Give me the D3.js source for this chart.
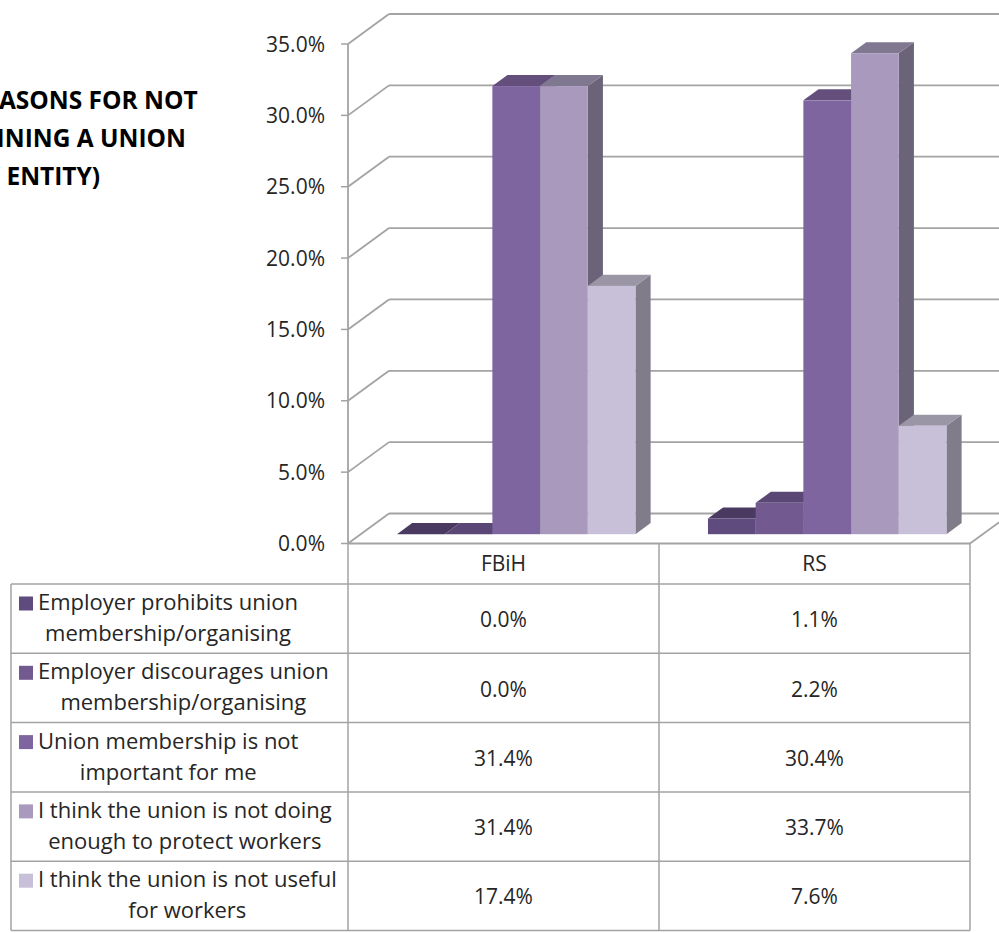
<!DOCTYPE html>
<html>
<head>
<meta charset="utf-8">
<script src="https://cdn.jsdelivr.net/npm/d3@7"></script>
<style>
  html, body { margin: 0; padding: 0; background: #ffffff; }
  svg { display: block; }
</style>
</head>
<body>
<script>
// ---------------- DATA ----------------
const categories = ["FBiH", "RS"];
const seriesNames = [
  "Employer prohibits union membership/organising",
  "Employer discourages union membership/organising",
  "Union membership is not important for me",
  "I think the union is not doing enough to protect workers",
  "I think the union is not useful for workers"
];
const legendLines = [
  ["Employer prohibits union", "membership/organising"],
  ["Employer discourages union", "membership/organising"],
  ["Union membership is not", "important for me"],
  ["I think the union is not doing", "enough to protect workers"],
  ["I think the union is not useful", "for workers"]
];
const valuesFBiH = [0.0, 0.0, 31.4, 31.4, 17.4];
const valuesRS = [1.1, 2.2, 30.4, 33.7, 7.6];
const yTicks = [0, 5, 10, 15, 20, 25, 30, 35];
const titleLines = ["REASONS FOR NOT", "JOINING A UNION", "(BY ENTITY)"];

// ---------------- STYLE ----------------
const frontColors = ["#5F4B7E", "#725A91", "#7F65A0", "#A899BD", "#C8C0D8"];
const topColors   = ["#4A3A62", "#5A4775", "#634E7C", "#807791", "#9B96A5"];
const sideColors  = ["#44375A", "#54436C", "#5B4A72", "#6B6479", "#807C8A"];
const gridColor = "#A3A3A3";
const textColor = "#262626";
const FONT = "'Open Sans', 'DejaVu Sans', sans-serif";
const FS = 21, FS_LEG = 22;

const W = 999, H = 933;
const svg = d3.select("body").append("svg").attr("width", W).attr("height", H)
  .style("font-family", FONT);

// 3D geometry
const DX = 41, DY = -30;          // depth offset of the box
const fF = 0.31, fB = 0.68;       // bar front/back fractions of depth
const axisX = 348, plotRight = 970;

const y = d3.scaleLinear().domain([0, 35]).range([543.5, 44]);
const x0 = d3.scaleBand().domain(categories).range([axisX, plotRight]).padding(0);
const x1 = d3.scaleBand().domain(d3.range(seriesNames.length))
  .range([0, x0.bandwidth()]).paddingInner(0).paddingOuter(0.76);

const data = categories.map((c, ci) => ({
  cat: c, vals: ci === 0 ? valuesFBiH : valuesRS
}));

// ---------------- GRID (walls) ----------------
const grid = svg.append("g");
yTicks.forEach(t => {
  const yf = y(t), yb = y(t) + DY;
  grid.append("line").attr("x1", axisX).attr("y1", yf).attr("x2", axisX + DX).attr("y2", yb)
    .attr("stroke", gridColor).attr("stroke-width", 1.8);
  grid.append("line").attr("x1", axisX + DX).attr("y1", yb).attr("x2", W + 60).attr("y2", yb)
    .attr("stroke", gridColor).attr("stroke-width", 1.8);
});
// floor
grid.append("line").attr("x1", axisX).attr("y1", y(0)).attr("x2", plotRight).attr("y2", y(0))
  .attr("stroke", gridColor).attr("stroke-width", 1.8);
grid.append("line").attr("x1", plotRight).attr("y1", y(0)).attr("x2", plotRight + DX).attr("y2", y(0) + DY)
  .attr("stroke", gridColor).attr("stroke-width", 1.8);

// axis
const ax = svg.append("g");
ax.append("line").attr("x1", axisX).attr("y1", y(35)).attr("x2", axisX).attr("y2", y(0))
  .attr("stroke", gridColor).attr("stroke-width", 1.8);
yTicks.forEach(t => {
  ax.append("line").attr("x1", axisX - 7).attr("y1", y(t)).attr("x2", axisX).attr("y2", y(t))
    .attr("stroke", gridColor).attr("stroke-width", 1.5);
  ax.append("text").attr("x", 325).attr("y", y(t)).attr("dy", "0.36em")
    .attr("text-anchor", "end").attr("font-size", FS).attr("fill", textColor)
    .text(d3.format(".1f")(t) + "%");
});

// ---------------- BARS ----------------
const bars = svg.append("g");
const ddx = (fB - fF) * DX, ddy = (fB - fF) * DY;
data.forEach(d => {
  d.vals.forEach((v, i) => {
    const xl = x0(d.cat) + x1(i) + fF * DX;
    const w = x1.bandwidth();
    const yb = y(0) + fF * DY;
    const yt = y(v) + fF * DY;
    const g = bars.append("g");
    g.append("polygon")
      .attr("points", [[xl + w, yt], [xl + w + ddx, yt + ddy], [xl + w + ddx, yb + ddy], [xl + w, yb]].join(" "))
      .attr("fill", sideColors[i]);
    g.append("polygon")
      .attr("points", [[xl, yt], [xl + ddx, yt + ddy], [xl + w + ddx, yt + ddy], [xl + w, yt]].join(" "))
      .attr("fill", topColors[i]);
    if (yb - yt > 0.5) {
      g.append("rect").attr("x", xl).attr("y", yt).attr("width", w).attr("height", yb - yt)
        .attr("fill", frontColors[i]);
    }
  });
});

// ---------------- TITLE ----------------
const title = svg.append("g");
const titleX = [-31, -31, -40];
titleLines.forEach((l, i) => {
  title.append("text").attr("x", titleX[i]).attr("y", 109 + i * 38)
    .attr("font-size", 24.5).attr("font-weight", 700).attr("fill", "#000")
    .text(l);
});

// ---------------- DATA TABLE ----------------
const tbl = svg.append("g");
const tableLeft = 11, headerTop = y(0), legendTop = 584, rowH = 69.3;
const nRows = seriesNames.length;
const tableBottom = legendTop + nRows * rowH;
const lineStyle = s => s.attr("stroke", gridColor).attr("stroke-width", 1.5);

for (let r = 0; r <= nRows; r++) {
  const yy = legendTop + r * rowH;
  tbl.append("line").attr("x1", tableLeft).attr("y1", yy).attr("x2", plotRight).attr("y2", yy).call(lineStyle);
}
tbl.append("line").attr("x1", tableLeft).attr("y1", legendTop).attr("x2", tableLeft).attr("y2", tableBottom).call(lineStyle);
[axisX, x0("RS"), plotRight].forEach(xx => {
  tbl.append("line").attr("x1", xx).attr("y1", headerTop).attr("x2", xx).attr("y2", tableBottom).call(lineStyle);
});
categories.forEach(c => {
  tbl.append("text").attr("x", x0(c) + x0.bandwidth() / 2).attr("y", (headerTop + legendTop) / 2)
    .attr("dy", "0.36em").attr("text-anchor", "middle").attr("font-size", FS).attr("fill", textColor)
    .text(c);
});
legendLines.forEach((lines, r) => {
  const top = legendTop + r * rowH;
  const g = tbl.append("g");
  const texts = lines.map((l, k) => g.append("text").attr("y", top + 26 + k * 31)
    .attr("font-size", FS_LEG).attr("fill", textColor).attr("text-anchor", "middle").text(l));
  const maxW = d3.max(texts, t => t.node().getComputedTextLength());
  const textLeft = 38;
  texts.forEach(t => t.attr("x", textLeft + maxW / 2));
  g.append("rect").attr("x", 19).attr("y", top + 26 - 13.5).attr("width", 14).attr("height", 14)
    .attr("fill", frontColors[r]);
  data.forEach(d => {
    g.append("text").attr("x", x0(d.cat) + x0.bandwidth() / 2).attr("y", top + rowH / 2 + 1)
      .attr("dy", "0.36em").attr("text-anchor", "middle").attr("font-size", FS).attr("fill", textColor)
      .text(d3.format(".1f")(d.vals[r]) + "%");
  });
});
</script>
</body>
</html>
